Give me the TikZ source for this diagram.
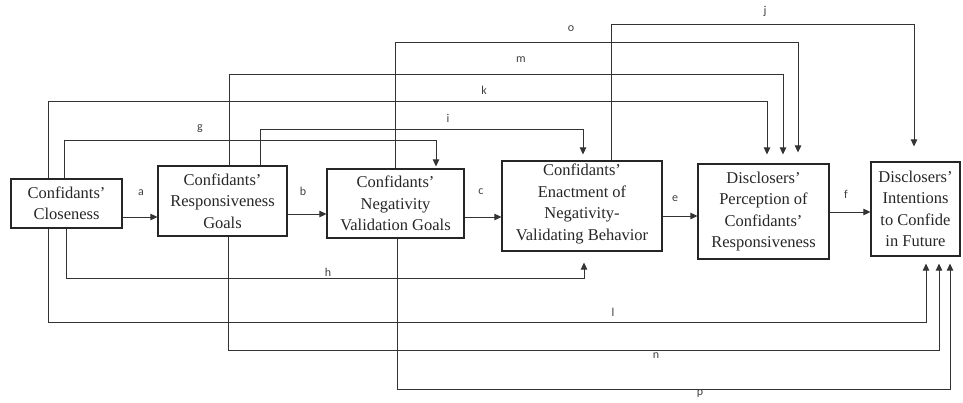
\documentclass[tikz,border=0pt]{standalone}
\usepackage{fontspec}
\setmainfont{Liberation Serif}
\newfontfamily\boxfont{Liberation Serif}
\newfontfamily\lblfont{Carlito}
\usetikzlibrary{arrows.meta}
\begin{document}
\begin{tikzpicture}[x=1pt,y=-1pt,
  box/.style={draw=black!85,line width=1.2pt,inner sep=0pt,align=center,
    font=\boxfont\fontsize{16.5}{21.5}\selectfont,text=black!85},
  conn/.style={draw=black!80,line width=1pt},
  arr/.style={conn,-{Triangle[length=7pt,width=6.5pt]}},
  lbl/.style={font=\lblfont\fontsize{12}{13}\selectfont,text=black!75,inner sep=0pt}]
\useasboundingbox (0,0) rectangle (963,402);
% boxes
\node[box,minimum width=111pt,minimum height=49pt] (B1) at (66.5,203.5) {Confidants’\\Closeness};
\node[box,minimum width=129pt,minimum height=70pt] (B2) at (222.5,201) {Confidants’\\Responsiveness\\Goals};
\node[box,minimum width=137pt,minimum height=69pt] (B3) at (395.5,203.5) {Confidants’\\Negativity\\Validation Goals};
\node[box,minimum width=160pt,minimum height=90pt] (B4) at (582,206) {\mbox{}\\[-13.5pt]Confidants’\\Enactment of\\Negativity-\\Validating Behavior};
\node[box,minimum width=131pt,minimum height=95pt] (B5) at (763.5,211.5) {Disclosers’\\Perception of\\Confidants’\\Responsiveness};
\node[box,minimum width=89pt,minimum height=94pt] (B6) at (915.5,209) {Disclosers’\\Intentions\\to Confide\\in Future};
% direct arrows
\coordinate (ya) at (0,217);
\coordinate (yb) at (0,214);
\coordinate (yc) at (0,217);
\coordinate (ye) at (0,216);
\coordinate (yf) at (0,212);
\draw[arr] (B1.east |- ya) -- (B2.west |- ya);
\draw[arr] (B2.east |- yb) -- (B3.west |- yb);
\draw[arr] (B3.east |- yc) -- (B4.west |- yc);
\draw[arr] (B4.east |- ye) -- (B5.west |- ye);
\draw[arr] (B5.east |- yf) -- (B6.west |- yf);
\node[lbl] (la) at (141,193) {a};
\node[lbl] (lb) at (303,191) {b};
\node[lbl] (lc) at (481,192) {c};
\node[lbl] (le) at (675,199) {e};
\node[lbl] (lf) at (846,194) {f};
% top routes
\coordinate (g1) at (64,140);  \coordinate (g2) at (436,140);
\coordinate (i1) at (260,129); \coordinate (i2) at (583,129);
\coordinate (k1) at (48,101);  \coordinate (k2) at (767,101);
\coordinate (m1) at (229,74);  \coordinate (m2) at (783,74);
\coordinate (o1) at (395,42);  \coordinate (o2) at (798,42);
\coordinate (j1) at (611,24);  \coordinate (j2) at (914,24);
\draw[arr] (B1.north -| g1) -- (g1) -- (g2) -- ([yshift=2pt]B3.north -| g2);
\draw[arr] (B2.north -| i1) -- (i1) -- (i2) -- ([yshift=6pt]B4.north -| i2);
\draw[arr] (B1.north -| k1) -- (k1) -- (k2) -- ([yshift=9pt]B5.north -| k2);
\draw[arr] (B2.north -| m1) -- (m1) -- (m2) -- ([yshift=9pt]B5.north -| m2);
\draw[arr] (B3.north -| o1) -- (o1) -- (o2) -- ([yshift=11pt]B5.north -| o2);
\draw[arr] (B4.north -| j1) -- (j1) -- (j2) -- ([yshift=15pt]B6.north -| j2);
\node[lbl] (lg) at (200,129) {g};
\node[lbl] (li) at (448,118) {i};
\node[lbl] (lk) at (484,90) {k};
\node[lbl] (lm) at (521,60) {m};
\node[lbl] (lo) at (571,29) {o};
\node[lbl] (lj) at (765,11) {j};
% bottom routes
\coordinate (h1) at (66,278);  \coordinate (h2) at (584,278);
\coordinate (l1) at (48,322);  \coordinate (l2) at (926,322);
\coordinate (n1) at (228,350); \coordinate (n2) at (939,350);
\coordinate (p1) at (397,389); \coordinate (p2) at (950,389);
\draw[arr] (B1.south -| h1) -- (h1) -- (h2) -- ([yshift=-11pt]B4.south -| h2);
\draw[arr] (B1.south -| l1) -- (l1) -- (l2) -- ([yshift=-7pt]B6.south -| l2);
\draw[arr] (B2.south -| n1) -- (n1) -- (n2) -- ([yshift=-7pt]B6.south -| n2);
\draw[arr] (B3.south -| p1) -- (p1) -- (p2) -- ([yshift=-7pt]B6.south -| p2);
\node[lbl] (lh) at (328,272) {h};
\node[lbl] (ll) at (613,312) {l};
\node[lbl] (ln) at (656,356) {n};
\node[lbl] (lp) at (700,394) {p};
\end{tikzpicture}
\end{document}
